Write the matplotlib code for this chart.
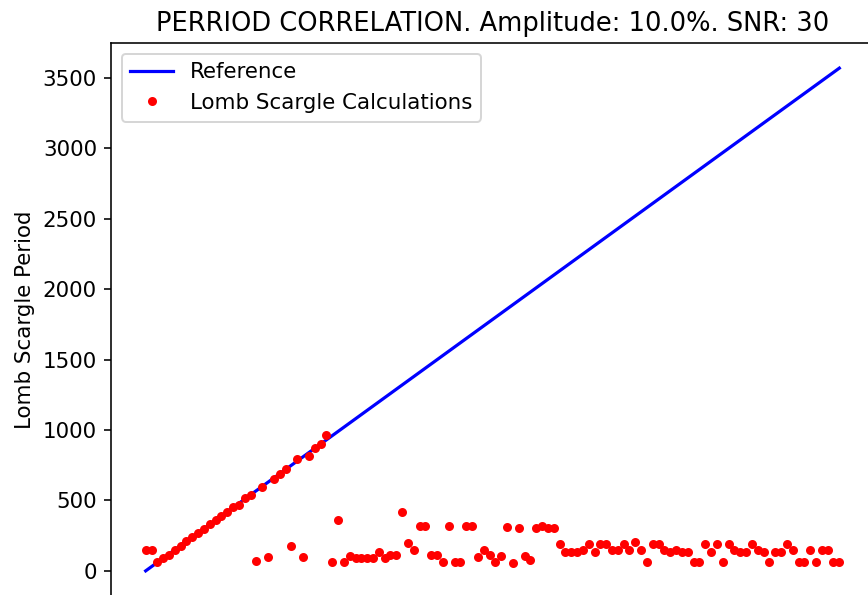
import numpy as np
import matplotlib
matplotlib.use("Agg")
import matplotlib.pyplot as plt

# test periods (regular grid) and the periods Lomb-Scargle found for them
periods = np.arange(0, 3600, 30)
ls_periods = [150, 150, 60, 88, 116, 150, 180, 210, 240, 270,
              300, 330, 360, 390, 420, 450, 467, 514, 540, 69,
              592, 100, 652, 690, 723, 178, 792, 102, 818, 870,
              901, 965, 62, 363, 62, 104, 90, 90, 90, 90,
              137, 90, 111, 111, 417, 197, 147, 320, 320, 111,
              111, 64, 318, 62, 62, 318, 318, 100, 149, 111,
              62, 104, 315, 55, 306, 104, 76, 306, 318, 306,
              306, 190, 137, 137, 137, 147, 190, 135, 190, 190,
              147, 147, 190, 147, 206, 147, 62, 190, 190, 147,
              135, 147, 135, 135, 62, 62, 190, 135, 190, 62,
              190, 147, 135, 135, 190, 147, 135, 62, 135, 135,
              190, 147, 62, 62, 147, 62, 147, 147, 62, 62]

title = "PERRIOD CORRELATION. Amplitude: 10.0%. SNR: 30"

plt.rcParams['font.size'] = 10.7

fig = plt.figure(figsize=(868 / 144, 595 / 144), dpi=144)
# the reference is a crop: the x axis and right spine fall outside it
ax = fig.add_axes([111 / 868, -1 / 595, 763 / 868, 553 / 595])

ax.plot(periods, periods, 'b-', lw=1.6, label='Reference')
ax.plot(periods, ls_periods, 'r.', ms=7, label='Lomb Scargle Calculations')

ax.set_xlim(-178.5, 3748.5)
ax.set_ylim(-178.5, 3748.5)
ax.set_title(title, fontsize=12.9)
ax.set_ylabel('Lomb Scargle Period')
ax.legend(loc='upper left')

fig.savefig('out.png', dpi=144)
